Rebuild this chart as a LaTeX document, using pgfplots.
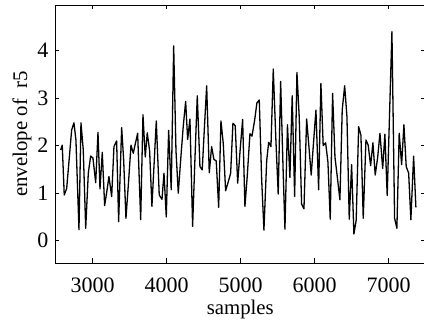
\documentclass[border=0pt]{standalone}
\usepackage{pgfplots}
\pgfplotsset{compat=1.18}
\usepackage{fontspec}
\setmainfont{Liberation Serif}
\pgfplotstableread{
x y
2568 1.91
2589 2.01
2616 0.96
2649 1.10
2716 2.33
2747 2.48
2774 2.12
2815 0.23
2842 2.48
2873 1.91
2906 0.26
2941 1.42
2973 1.78
3004 1.74
3041 1.22
3072 2.28
3099 1.09
3130 1.86
3162 0.74
3193 1.05
3220 1.35
3257 0.93
3288 1.98
3324 2.10
3351 0.40
3392 2.38
3419 1.70
3450 0.47
3487 1.28
3518 2.01
3549 1.84
3578 2.05
3608 2.26
3649 0.44
3680 2.65
3711 1.76
3738 2.27
3770 1.89
3801 0.72
3860 2.52
3900 0.96
3937 0.87
3964 1.42
3995 0.50
4027 2.32
4062 1.07
4095 4.10
4126 1.90
4157 1.00
4193 1.77
4224 2.40
4257 2.93
4284 2.13
4315 2.56
4351 0.30
4382 1.70
4414 3.05
4450 1.56
4481 1.49
4511 2.40
4541 3.26
4576 1.43
4608 1.98
4639 1.71
4670 1.68
4703 0.70
4734 2.52
4765 2.05
4797 1.05
4833 1.24
4865 1.42
4896 2.47
4927 2.42
4960 1.21
4993 1.90
5027 2.55
5058 0.72
5089 1.35
5126 2.25
5153 2.20
5189 2.53
5220 2.90
5252 2.96
5284 1.30
5315 0.22
5352 1.68
5379 2.07
5410 1.98
5441 3.61
5477 2.10
5508 0.98
5541 3.35
5572 1.60
5599 0.24
5633 2.44
5666 1.33
5697 3.05
5730 0.93
5761 3.54
5792 2.60
5824 0.77
5856 0.67
5892 2.56
5923 1.98
5954 1.38
5987 2.10
6018 2.75
6054 1.07
6085 3.31
6116 2.00
6149 2.06
6180 1.65
6211 0.45
6243 3.10
6275 1.76
6306 1.35
6342 0.86
6373 2.75
6406 3.26
6437 2.61
6468 0.45
6500 1.60
6531 0.14
6562 0.43
6595 2.40
6626 2.22
6657 0.47
6694 2.12
6724 2.01
6757 1.58
6788 2.06
6819 1.38
6852 1.75
6883 2.26
6920 1.52
6950 2.24
6981 0.95
7045 4.40
7081 0.47
7112 0.26
7143 2.26
7176 1.60
7207 2.44
7238 1.56
7271 1.42
7301 0.44
7338 1.78
7369 0.70
}\envdata
\begin{document}
\begin{tikzpicture}[font=\fontsize{20.8}{25}\selectfont]
\begin{axis}[
  scale only axis, width=370.6pt, height=258pt,
  xmin=2491, xmax=7500, ymin=-0.47, ymax=4.96,
  xtick={3000,4000,5000,6000,7000}, ytick={0,1,2,3,4},
  xticklabels={3000,4000,5000,6000,7000},
  yticklabels={0,1,2,3,4},
  tick align=inside, major tick length=4.5pt,
  axis line style={line width=0.8pt},
  every tick/.style={black, line width=0.8pt},
  xticklabel style={font=\fontsize{22}{25}\selectfont, anchor=north, yshift=-11pt},
  yticklabel style={font=\fontsize{22}{25}\selectfont, anchor=east, xshift=-3pt},
  label style={font=\fontsize{20.8}{25}\selectfont},
  xlabel={samples}, ylabel={envelope of\ \ r5},
  xlabel style={yshift=-1pt},
  ylabel style={yshift=-1pt},
]
\addplot[black, line width=1.3pt, line join=round] table[x=x,y=y] {\envdata};
\coordinate (sw) at (rel axis cs:0,0);
\coordinate (ne) at (rel axis cs:1,1);
\end{axis}
\pgfresetboundingbox
\path[use as bounding box] ([xshift=-55pt,yshift=-61pt]sw) rectangle ([xshift=-1.6pt,yshift=5pt]ne);
\end{tikzpicture}
\end{document}
